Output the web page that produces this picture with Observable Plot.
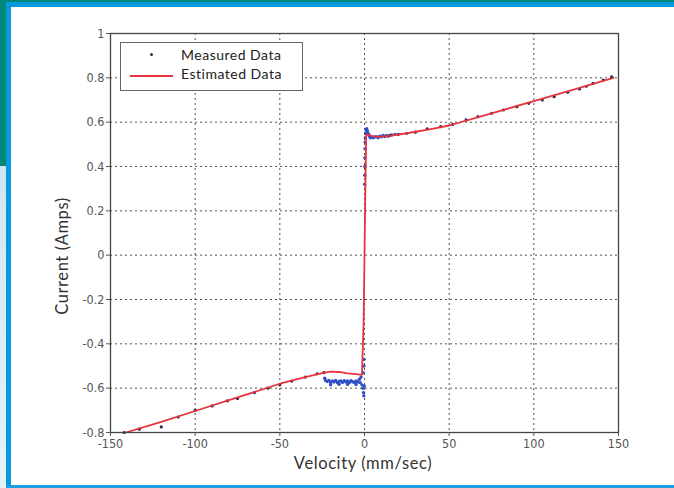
<!DOCTYPE html>
<html>
<head>
<meta charset="utf-8">
<script src="https://cdn.jsdelivr.net/npm/d3@7"></script>
<script src="https://cdn.jsdelivr.net/npm/@observablehq/plot@0.6"></script>
<style>
  html, body { margin: 0; padding: 0; background: #fff; }
  #wrap { position: relative; width: 674px; height: 488px; overflow: hidden; background: #fff; }
  .blk { position: absolute; }
  #chart { position: absolute; left: 11px; top: 7px; }
  .axlabel { position: absolute; font-family: Lato, "Open Sans", sans-serif; font-size: 16.5px; letter-spacing: 0.6px; color: #333; white-space: nowrap; }
  #legend { position: absolute; left: 120px; top: 42px; width: 183px; height: 49px; box-sizing: border-box;
            border: 1.5px solid #666; background: #fff; font-family: Lato, "Open Sans", sans-serif; font-size: 14px; line-height: 14px; letter-spacing: 0.5px; color: #222; }
  #legend .row { position: absolute; left: 60px; white-space: nowrap; }
</style>
</head>
<body>
<div id="wrap">
  <div class="blk" style="left:0;top:0;width:674px;height:2px;background:#00897a"></div>
  <div class="blk" style="left:0;top:0;width:6px;height:166px;background:#00897a"></div>
  <div class="blk" style="left:0;top:166px;width:6px;height:322px;background:linear-gradient(#cfe7f3,#e6f3f9)"></div>
  <div class="blk" style="left:6px;top:2px;width:5px;height:486px;background:#0898dc"></div>
  <div class="blk" style="left:6px;top:2px;width:668px;height:5px;background:#0898dc"></div>
  <div class="blk" style="left:6px;top:485px;width:668px;height:3px;background:#1aa0e0"></div>
  <div id="chart"></div>
  <div class="axlabel" id="xlab" style="left:363px;top:453px;transform:translateX(-50%)">Velocity (mm/sec)</div>
  <div class="axlabel" id="ylab" style="left:62px;top:256px;transform:translate(-50%,-50%) rotate(-90deg)">Current (Amps)</div>
  <div id="legend">
    <div class="blk" style="left:29px;top:10px;width:3px;height:3px;border-radius:50%;background:#333"></div>
    <div class="row" style="top:5px">Measured Data</div>
    <div class="blk" style="left:8.5px;top:31.5px;width:43px;height:2px;background:#e8323c"></div>
    <div class="row" style="top:24px">Estimated Data</div>
  </div>
</div>
<script>
// Tick values
const xTicks = [-150, -100, -50, 0, 50, 100, 150];
const yTicks = [-0.8, -0.6, -0.4, -0.2, 0, 0.2, 0.4, 0.6, 0.8, 1];

// Estimated Data (red line)
const estV = [-141, -120, -100, -75, -50, -35, -25, -20, -15, -10, -5, -1.5, -0.5, 0, 0.5, 1, 3, 6, 10, 15, 25, 40, 50, 75, 100, 125, 147];
const estI = [-0.80, -0.752, -0.703, -0.642, -0.58, -0.55, -0.532, -0.525, -0.527, -0.533, -0.537, -0.54, -0.3, 0, 0.3, 0.545, 0.54, 0.535, 0.535, 0.538, 0.55, 0.57, 0.585, 0.64, 0.695, 0.75, 0.80];

// Measured Data (sparse points)
const measV = [-142, -133, -120, -110, -100, -90, -81, -75, -65, -57, -50, -43, -35, -28, -24,
               15, 20, 25, 30, 37, 45, 52, 60, 67, 75, 82, 90, 97, 105, 112, 120, 127, 131, 135, 141, 146];
const measI = [-0.80, -0.785, -0.775, -0.73, -0.70, -0.68, -0.657, -0.647, -0.62, -0.60, -0.585, -0.568, -0.55, -0.535, -0.53,
               0.54, 0.545, 0.55, 0.555, 0.57, 0.58, 0.59, 0.61, 0.625, 0.64, 0.655, 0.67, 0.685, 0.70, 0.715, 0.735, 0.75, 0.762, 0.775, 0.79, 0.805];

// Measured Data (dense cluster near zero velocity)
const denseV = [-23.5, -23, -22, -21, -20, -19, -18, -17, -16, -15, -14, -13, -12, -11, -10, -9, -8, -7, -6, -5, -4, -3, -2.5, -2, -1.5, -1, -0.8, -0.6, -0.4, -0.3, -0.2, -0.1,
                -20, -15, -10, -5,
                0.1, 0.15, 0.2, 0.25, 0.3, 0.4, 0.5, 0.7, 1, 1.3, 1.7, 2, 2.5, 3, 3.5, 4, 5, 6, 7, 8, 9, 10, 11, 12, 13, 14, 16, 18];
const denseI = [-0.555, -0.565, -0.57, -0.565, -0.575, -0.568, -0.572, -0.565, -0.575, -0.57, -0.567, -0.574, -0.566, -0.572, -0.568, -0.575, -0.566, -0.571, -0.574, -0.567, -0.572, -0.56, -0.575, -0.55, -0.585, -0.60, -0.53, -0.62, -0.635, -0.50, -0.47, -0.59,
                -0.585, -0.582, -0.583, -0.583,
                0.32, 0.36, 0.40, 0.44, 0.48, 0.51, 0.53, 0.55, 0.565, 0.57, 0.56, 0.55, 0.545, 0.535, 0.53, 0.535, 0.53, 0.533, 0.535, 0.53, 0.537, 0.534, 0.54, 0.535, 0.54, 0.536, 0.542, 0.545];

const est = estV.map((v, i) => ({v, c: estI[i]}));
const meas = measV.map((v, i) => ({v, c: measI[i]}));
const dense = denseV.map((v, i) => ({v, c: denseI[i]}));

const fmt = d => String(d);

const chart = Plot.plot({
  width: 663,
  height: 478,
  marginLeft: 99,
  marginRight: 56,
  marginTop: 26,
  marginBottom: 53,
  style: {fontFamily: "'Liberation Sans Narrow','DejaVu Sans Condensed',sans-serif", fontSize: "12.5px", background: "transparent"},
  x: {domain: [-150, 150]},
  y: {domain: [-0.8, 1]},
  marks: [
    Plot.gridX(xTicks, {stroke: "#333", strokeOpacity: 0.85, strokeDasharray: "2,3"}),
    Plot.gridY(yTicks, {stroke: "#333", strokeOpacity: 0.85, strokeDasharray: "2,3"}),
    Plot.dot(dense, {x: "v", y: "c", r: 1.7, fill: "#2f4fc4"}),
    Plot.dot(meas, {x: "v", y: "c", r: 1.6, fill: "#23284f"}),
    Plot.line(est, {x: "v", y: "c", stroke: "#e8323c", strokeWidth: 1.8}),
    Plot.frame({stroke: "#444", strokeWidth: 1.3}),
    Plot.axisX(xTicks, {tickFormat: fmt, tickSize: 4, tickPadding: 3, stroke: "#555", fill: "#555", label: null}),
    Plot.axisY(yTicks, {tickFormat: fmt, tickSize: 4, tickPadding: 2, stroke: "#555", fill: "#555", label: null})
  ]
});
document.getElementById("chart").appendChild(chart);
</script>
</body>
</html>
